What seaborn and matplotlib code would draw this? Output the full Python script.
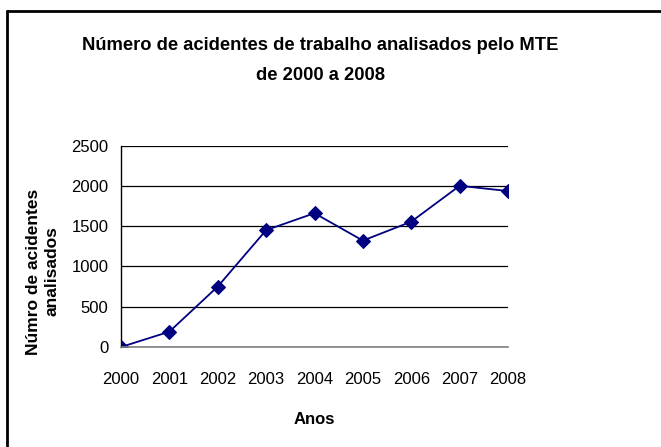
import matplotlib
matplotlib.use("Agg")
import matplotlib.pyplot as plt
import seaborn as sns
import pandas as pd

years = [2000, 2001, 2002, 2003, 2004, 2005, 2006, 2007, 2008]
acidentes = [0, 190, 750, 1450, 1660, 1320, 1555, 2000, 1935]
y_ticks = [0, 500, 1000, 1500, 2000, 2500]

title = "Número de acidentes de trabalho analisados pelo MTE\nde 2000 a 2008"
xlabel = "Anos"
ylabel = "Númro de acidentes\nanalisados"

sns.set_style("white")
plt.rcParams["font.family"] = ["Liberation Sans", "DejaVu Sans"]
plt.rcParams["text.color"] = "black"
plt.rcParams["axes.labelcolor"] = "black"
plt.rcParams["xtick.color"] = "black"
plt.rcParams["ytick.color"] = "black"

df = pd.DataFrame({"Ano": years, "Acidentes": acidentes})

fig = plt.figure(figsize=(6.61, 4.47), dpi=100)
ax = fig.add_axes([121/661, 1-347/447, (508-121)/661, (347-145.5)/447])

sns.lineplot(data=df, x="Ano", y="Acidentes", ax=ax, color="#000080",
             marker="D", markersize=7, markeredgecolor="#000080", linewidth=1.3)

ax.set_xlim(2000, 2008)
ax.set_ylim(0, 2500)
ax.set_xticks(years)
ax.set_xticklabels([str(y) for y in years])
ax.set_yticks(y_ticks)
ax.grid(axis="y", color="black", linewidth=0.9)
ax.set_axisbelow(True)
for s in ["top", "right"]:
    ax.spines[s].set_visible(False)
ax.spines["left"].set_color("black")
ax.spines["left"].set_linewidth(1.0)
ax.spines["bottom"].set_color("#808080")
ax.spines["bottom"].set_linewidth(1.2)
ax.tick_params(axis="x", direction="out", length=6, width=1, color="black",
               labelsize=12, pad=12)
ax.tick_params(axis="y", direction="out", length=5, width=1, color="black",
               labelsize=12, pad=4)
ax.set_xlabel(xlabel, fontsize=12, fontweight="bold", labelpad=18)
ax.set_ylabel(ylabel, fontsize=12.5, fontweight="bold", linespacing=1.3)
ax.yaxis.set_label_coords(-0.158, 0.375)

fig.text(0.485, 1-61/447, title, ha="center", va="center", fontsize=13.2,
         fontweight="bold", linespacing=2.0)

# outer chart border (only top and left visible)
fig.add_artist(plt.Line2D([6.5/661, 6.5/661], [0, 1-10.5/447], transform=fig.transFigure,
                          color="black", linewidth=2))
fig.add_artist(plt.Line2D([6.5/661, 1], [1-10.5/447, 1-10.5/447], transform=fig.transFigure,
                          color="black", linewidth=2))

fig.savefig("out.png", dpi=100)
